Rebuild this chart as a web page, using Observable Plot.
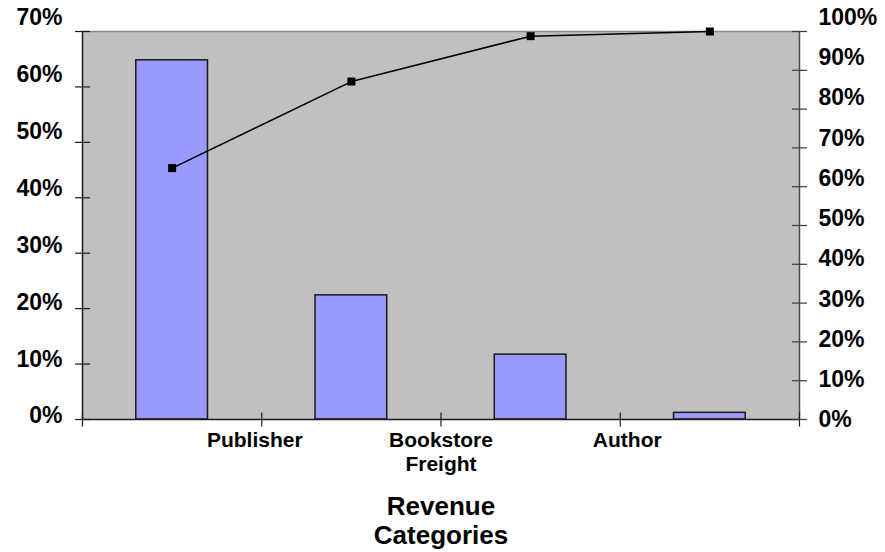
<!DOCTYPE html>
<html>
<head>
<meta charset="utf-8">
<script src="https://cdn.jsdelivr.net/npm/d3@7"></script>
<script src="https://cdn.jsdelivr.net/npm/@observablehq/plot@0.6"></script>
<style>
  body { margin: 0; background: #fff; }
  #chart svg { display: block; }
</style>
</head>
<body>
<div id="chart"></div>
<script>
// ---- data ----
const categoryIndex = [0, 1, 2, 3];
const shares = [64.8, 22.4, 11.7, 1.2];          // % of revenue (left axis)
const cumulative = [64.8, 87.1, 98.8, 100.0];    // cumulative % (right axis)
const tickLabels = ["Publisher", "Bookstore\nFreight", "Author"];
const tickLabelPositions = [1, 2, 3];
const leftTicks = [0, 10, 20, 30, 40, 50, 60, 70];
const rightTicks = [0, 10, 20, 30, 40, 50, 60, 70, 80, 90, 100];
const axisTitle = "Revenue\nCategories";

// ---- derived tables ----
const LEFT_MAX = 70, RIGHT_MAX = 100;
const r2l = v => v * LEFT_MAX / RIGHT_MAX; // right-axis value on the left scale
const bars = categoryIndex.map((i, k) => ({i, v: shares[k]}));
const pts = categoryIndex.map((i, k) => ({i, v: cumulative[k]}));
const labels = tickLabels.map((t, k) => ({i: tickLabelPositions[k], t}));

// custom symbols
const vTick = {draw(c) { c.moveTo(0, -7); c.lineTo(0, 7); }};
const hTick = {draw(c) { c.moveTo(-7.5, 0); c.lineTo(7.5, 0); }};
const square = {draw(c) { c.rect(-4, -4, 8, 8); }};

const font = "'Liberation Sans', Arial, Helvetica, sans-serif";

const marks = [
  Plot.frame({fill: "#C0C0C0", stroke: "none"}),
  Plot.ruleY([LEFT_MAX], {stroke: "#8a8a8a", strokeWidth: 1.5}),
  Plot.rect(bars, {x1: d => d.i + 0.3, x2: d => d.i + 0.7, y1: 0, y2: "v",
    fill: "#9999FF", stroke: "#1a1a1a", strokeWidth: 1.5}),
  Plot.ruleX([categoryIndex.length], {stroke: "#4a4a4a", strokeWidth: 1.5}),
  Plot.ruleX([0], {stroke: "#1a1a1a", strokeWidth: 1.5}),
  Plot.ruleY([0], {stroke: "#1a1a1a", strokeWidth: 1.5}),
  // axis ticks crossing the axis lines
  Plot.dot([0, 1, 2, 3, 4], {x: d => d, y: () => 0, symbol: vTick, fill: "none", stroke: "#1a1a1a", strokeWidth: 1.2}),
  Plot.dot(leftTicks, {x: () => 0, y: d => d, symbol: hTick, fill: "none", stroke: "#1a1a1a", strokeWidth: 1.2}),
  Plot.dot(rightTicks, {x: () => categoryIndex.length, y: d => r2l(d), symbol: hTick, fill: "none", stroke: "#3a3a3a", strokeWidth: 1.2}),
  // cumulative line
  Plot.line(pts, {x: d => d.i + 0.5, y: d => r2l(d.v), stroke: "#000", strokeWidth: 1.5}),
  Plot.dot(pts, {x: d => d.i + 0.5, y: d => r2l(d.v), symbol: square, fill: "#000", stroke: "none"}),
  // category tick labels (each nudged like the reference)
  ...labels.map((d, k) => Plot.text([d], {x: "i", frameAnchor: "bottom", text: "t", lineAnchor: "top",
    dy: 11, dx: -7 + 7 * k, fontSize: 21, fontWeight: "bold", lineHeight: 1.12, fill: "#000"})),
  // axis title
  Plot.text([axisTitle], {x: () => categoryIndex.length / 2, frameAnchor: "bottom", text: d => d,
    lineAnchor: "top", dy: 76, fontSize: 26, fontWeight: "bold", lineHeight: 1.08, fill: "#000"}),
  // left tick labels (each nudged like the reference)
  ...leftTicks.map((t, k) => Plot.text([t], {frameAnchor: "left", y: d => d, text: d => d + "%",
    textAnchor: "end", dx: -20, dy: -3.5 - 1.43 * k, fontSize: 23, fontWeight: "bold", fill: "#000"})),
  // right tick labels
  ...rightTicks.map((t, k) => Plot.text([t], {frameAnchor: "right", y: d => r2l(d), text: d => d + "%",
    textAnchor: "start", dx: 19, dy: 0.5 - 1.45 * k, fontSize: 23, fontWeight: "bold", fill: "#000"}))
];

const chart = Plot.plot({
  width: 885,
  height: 552,
  marginLeft: 82,
  marginRight: 86,
  marginTop: 31,
  marginBottom: 133,
  style: {fontFamily: font, background: "#fff", overflow: "visible"},
  x: {type: "linear", domain: [0, categoryIndex.length], axis: null},
  y: {type: "linear", domain: [0, LEFT_MAX], axis: null},
  marks
});

document.getElementById("chart").appendChild(chart);
</script>
</body>
</html>
